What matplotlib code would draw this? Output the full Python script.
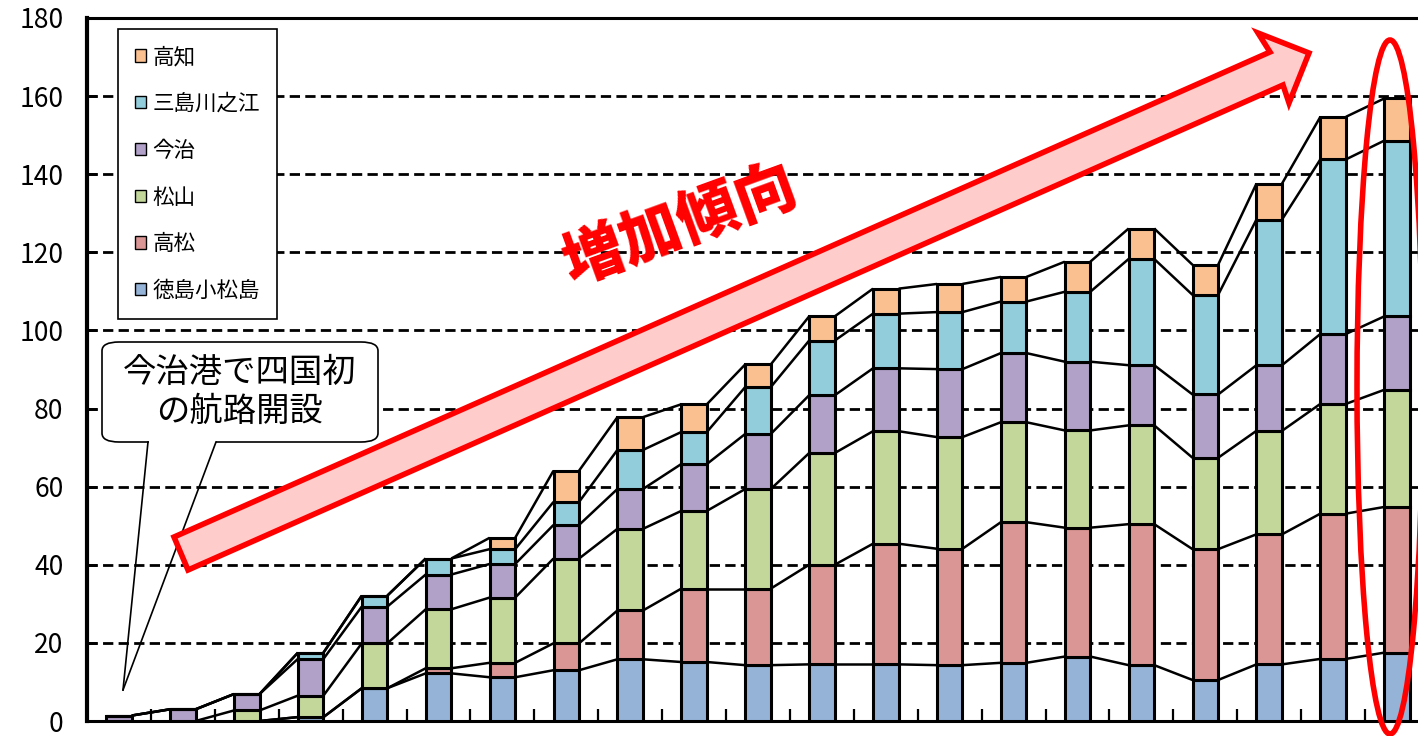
import matplotlib
matplotlib.use("Agg")
import matplotlib.pyplot as plt
import numpy as np
from matplotlib.patches import Polygon, Ellipse, FancyBboxPatch, Rectangle, Patch
from matplotlib.lines import Line2D

plt.rcParams['font.family'] = ['Noto Sans CJK JP', 'DejaVu Sans']

# 路線数（下から積み上げ）
labels = ['徳島小松島', '高松', '松山', '今治', '三島川之江', '高知']
colors = ['#95B3D7', '#DA9694', '#C4D79B', '#B1A0C7', '#92CDDC', '#FAC090']

tokushima = [0, 0, 0, 1.0, 8.4, 12.2, 11.2, 13.0, 15.8, 15.1, 14.3, 14.5, 14.5, 14.3, 14.9, 16.5, 14.3, 10.5, 14.5, 15.9, 17.5]
takamatsu = [0, 0, 0, 0, 0, 1.3, 3.7, 6.9, 12.5, 18.8, 19.6, 25.5, 30.9, 29.8, 36.0, 33.0, 36.1, 33.5, 33.3, 37.2, 37.3]
matsuyama = [0, 0, 2.7, 5.5, 11.5, 15.1, 16.7, 21.7, 20.9, 19.9, 25.5, 28.6, 28.8, 28.6, 25.6, 24.9, 25.3, 23.4, 26.5, 28.1, 30.0]
imabari = [1.4, 3.0, 4.2, 9.4, 9.4, 8.9, 8.6, 8.6, 10.2, 12.0, 14.1, 14.8, 16.1, 17.4, 17.7, 17.6, 15.4, 16.2, 16.8, 17.9, 18.8]
mishima = [0, 0, 0, 1.6, 2.8, 4.1, 3.8, 5.9, 10.0, 8.2, 12.0, 14.0, 14.0, 14.6, 13.2, 17.9, 27.2, 25.5, 37.3, 44.7, 45.0]
kochi = [0, 0, 0, 0, 0, 0, 2.9, 8.0, 8.4, 7.1, 5.8, 6.2, 6.4, 7.2, 6.3, 7.7, 7.8, 7.7, 9.2, 10.9, 10.8]

series = [tokushima, takamatsu, matsuyama, imabari, mishima, kochi]

W, H = 1418, 736
fig = plt.figure(figsize=(W / 100, H / 100), dpi=100)
ax = fig.add_axes([87 / W, 15 / H, 1342 / W, 703 / H])

def fpos(px, py):
    # pixel position (from top-left) -> figure fraction
    return (px / W, 1 - py / H)

x = np.arange(len(tokushima))
bw = 0.4
bottom = np.zeros(len(x))
tops = []
for vals, c in zip(series, colors):
    vals = np.array(vals)
    ax.bar(x, vals, width=bw, bottom=bottom, color=c, edgecolor='black', linewidth=2.2, zorder=3)
    bottom = bottom + vals
    tops.append(bottom.copy())

# series lines between bars
for cum in tops:
    for i in range(len(x) - 1):
        ax.plot([x[i] + bw / 2, x[i + 1] - bw / 2], [cum[i], cum[i + 1]],
                color='black', lw=1.8, zorder=2, solid_capstyle='butt')

ax.set_xlim(-0.5, len(x) - 0.5)
ax.set_ylim(0, 180)
ax.set_yticks(np.arange(0, 181, 20))
ax.set_xticks(np.arange(0.5, len(x) - 0.5, 1))
ax.tick_params(axis='y', direction='in', length=7, width=2, labelsize=19, pad=17)
ax.tick_params(axis='x', direction='in', length=9, width=1.6, labelbottom=False)
ax.yaxis.grid(True, color='black', lw=2, linestyle=(0, (3.7, 1.9)))
ax.set_axisbelow(True)
ax.spines['left'].set_linewidth(3)
ax.spines['bottom'].set_linewidth(2.2)
ax.spines['top'].set_linewidth(2.2)
ax.spines['right'].set_visible(False)

# legend (reversed order)
handles = [Patch(facecolor=c, edgecolor='black', linewidth=1.0) for c in colors][::-1]
leg = ax.legend(handles, labels[::-1], loc='upper left', bbox_to_anchor=fpos(118, 29),
                bbox_transform=fig.transFigure, fontsize=15.5, frameon=True, fancybox=False,
                edgecolor='black', framealpha=1, labelspacing=1.15, handlelength=0.5,
                handleheight=0.5, handletextpad=0.3, borderpad=0.8, borderaxespad=0)
leg.get_frame().set_linewidth(1.2)
leg.set_zorder(20)

# callout
box = FancyBboxPatch(fpos(102, 442), 276 / W, 100 / H, boxstyle='round,pad=0,rounding_size=0.012',
                     transform=fig.transFigure, facecolor='white', edgecolor='black', lw=1.2, zorder=10)
fig.add_artist(box)
fig.add_artist(Rectangle(fpos(149, 444), 67 / W, 5 / H, transform=fig.transFigure,
                         facecolor='white', edgecolor='none', zorder=11))
for sx in (148, 216):
    fig.add_artist(Line2D([sx / W, 123 / W], [1 - 442 / H, 1 - 690 / H],
                          transform=fig.transFigure, color='black', lw=1.2, zorder=11))
fig.text(*fpos(240, 392), '今治港で四国初\nの航路開設', fontsize=24, ha='center', va='center',
         linespacing=1.12, zorder=12)

# trend arrow
arrow_px = [(174, 537), (1270, 52), (1258, 33), (1309, 53), (1289, 103), (1283, 85), (188, 570)]
arrow = Polygon([fpos(px, py) for px, py in arrow_px], closed=True, transform=fig.transFigure,
                facecolor='#FFCCCC', edgecolor='#FF0000', lw=4, joinstyle='miter', zorder=13)
fig.add_artist(arrow)
fig.text(*fpos(681, 226), '増加傾向', fontsize=44, fontweight='heavy', color='#FF0000',
         rotation=20, rotation_mode='anchor', ha='center', va='center', zorder=14)

# highlight latest year
ell = Ellipse(fpos(1390, 387), 66 / W, 694 / H, transform=fig.transFigure,
              facecolor='none', edgecolor='#FF0000', lw=4, zorder=15)
fig.add_artist(ell)

fig.savefig('out.png', dpi=100)
